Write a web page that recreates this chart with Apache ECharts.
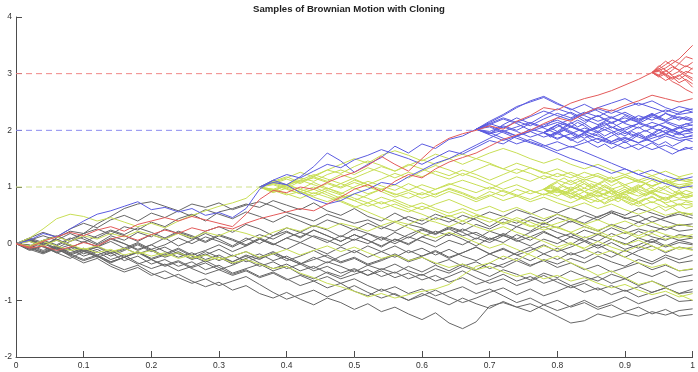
<!DOCTYPE html>
<html>
<head>
<meta charset="utf-8">
<script src="https://cdn.jsdelivr.net/npm/echarts@6/dist/echarts.min.js"></script>
<style>
  html, body { margin: 0; padding: 0; background: #fff; }
  #chart { width: 698px; height: 372px; }
</style>
</head>
<body>
<div id="chart"></div>
<script>
// all path values are in hundredths
// paths that start at t = 0, sampled every 0.02
const grayPaths = [
  [0,8,-4,10,22,18,35,48,62,70,74,66,58,70,64,72,60,68,74,66,55,48,40,52,44,36,42,30,22,34,28,18,26,14,20,8,16,4,12,22,10,18,6,-4,8,0,-8,4,-6,2,-2],
  [0,-6,6,14,4,18,26,16,30,24,38,30,44,52,40,56,62,70,64,76,68,60,72,58,50,62,48,40,54,42,34,46,38,50,42,30,44,36,48,40,52,44,36,48,56,44,50,38,46,52,45],
  [0,10,2,-8,4,12,0,14,6,20,12,26,18,8,22,30,20,34,26,14,28,20,32,24,12,26,18,6,20,10,24,16,28,20,8,22,14,30,22,36,28,40,30,22,34,26,38,30,24,34,30],
  [0,-10,-4,-16,-8,4,-6,8,0,-12,-2,10,-4,6,18,8,-4,10,0,14,22,10,24,14,4,16,6,-6,8,-2,12,4,18,8,-4,10,2,16,6,20,10,-2,12,4,18,8,22,12,6,16,12],
  [0,6,-4,-14,-6,-18,-10,-22,-12,-2,-14,-6,-18,-26,-14,-24,-32,-20,-28,-16,-26,-36,-24,-34,-22,-12,-24,-14,-4,-16,-8,-20,-10,-22,-30,-18,-28,-16,-6,-18,-8,-20,-12,-2,-14,-24,-12,-4,-16,-6,-10],
  [0,-8,2,-10,-20,-12,-24,-16,-30,-22,-36,-28,-40,-32,-46,-38,-52,-44,-36,-48,-40,-54,-62,-50,-58,-46,-56,-44,-52,-40,-50,-38,-48,-36,-46,-34,-42,-30,-40,-28,-36,-26,-34,-22,-32,-40,-28,-36,-24,-34,-30],
  [0,-12,-4,-16,-26,-14,-22,-34,-24,-14,-28,-20,-10,-22,-32,-24,-36,-26,-18,-30,-22,-34,-44,-32,-40,-50,-38,-46,-36,-48,-56,-44,-52,-40,-48,-58,-46,-54,-64,-52,-60,-48,-58,-66,-54,-62,-50,-58,-48,-60,-55],
  [0,-6,-16,-8,-20,-30,-22,-36,-46,-38,-52,-62,-54,-66,-76,-68,-82,-74,-88,-96,-86,-98,-108,-96,-104,-116,-106,-120,-112,-124,-134,-122,-140,-150,-138,-110,-104,-112,-106,-116,-128,-140,-136,-124,-130,-122,-128,-120,-126,-118,-115],
  [0,-10,-18,-8,-22,-34,-26,-40,-50,-42,-56,-48,-60,-70,-62,-74,-66,-58,-72,-86,-98,-90,-82,-94,-84,-74,-86,-96,-88,-100,-92,-82,-94,-104,-96,-86,-78,-90,-80,-92,-84,-74,-86,-78,-90,-82,-94,-86,-78,-88,-85],
  [0,4,-6,-16,-10,-22,-14,-28,-20,-34,-44,-36,-48,-40,-30,-42,-54,-46,-58,-50,-62,-74,-66,-78,-70,-84,-92,-80,-90,-100,-88,-98,-108,-96,-106,-114,-102,-112,-120,-108,-118,-110,-100,-112,-104,-94,-106,-98,-90,-102,-100],
  [0,8,0,-10,-2,-14,-6,4,-8,-18,-10,-22,-14,-26,-18,-30,-20,-32,-24,-14,-26,-36,-28,-20,-32,-24,-36,-28,-18,-30,-22,-12,-24,-16,-6,-18,-10,-20,-12,-2,-14,-6,4,-8,2,-10,-2,8,-4,6,0],
  [0,-8,-16,-6,-18,-10,-22,-32,-24,-14,-26,-18,-8,-20,-12,-2,-14,-4,8,-2,10,2,14,6,-4,8,0,12,4,16,26,18,30,22,34,26,38,30,42,34,46,38,50,42,54,46,38,48,40,32,35],
  [0,-4,6,-2,10,2,14,24,16,28,20,10,22,14,4,16,8,-2,10,0,-10,2,-8,-18,-6,-16,-4,-14,-24,-12,-22,-14,-26,-16,-6,-18,-8,-20,-30,-18,-28,-16,-26,-14,-24,-12,-22,-32,-20,-28,-20],
  [0,10,20,12,26,36,28,42,50,40,54,46,58,48,60,52,44,56,48,38,50,40,30,42,34,24,36,26,38,48,40,52,44,34,46,56,48,60,52,62,54,64,56,46,58,50,62,54,46,56,50],
  [0,-2,-12,-4,-16,-8,-20,-12,-24,-16,-28,-38,-30,-42,-34,-46,-38,-28,-40,-32,-44,-36,-48,-40,-52,-44,-56,-48,-60,-52,-64,-56,-68,-60,-72,-64,-54,-66,-58,-70,-62,-74,-66,-58,-70,-62,-74,-66,-76,-68,-65],
  [0,6,14,6,18,8,-2,10,0,-10,-2,-14,-24,-16,-28,-20,-32,-22,-34,-44,-36,-48,-40,-52,-62,-54,-46,-58,-50,-62,-54,-66,-58,-48,-60,-70,-62,-74,-66,-56,-68,-78,-70,-82,-74,-84,-76,-86,-78,-88,-80],
  [0,-6,4,-4,8,18,10,22,14,4,16,8,20,12,2,14,6,-4,8,-2,10,20,12,2,14,6,18,10,0,12,4,-6,6,-2,10,2,14,6,-4,8,0,12,4,16,8,-2,10,2,14,6,10],
  [0,8,-2,6,-4,-14,-6,-18,-10,0,-12,-24,-16,-28,-20,-10,-22,-14,-26,-18,-30,-22,-12,-24,-34,-26,-38,-30,-20,-32,-24,-36,-28,-40,-32,-44,-36,-26,-38,-30,-42,-34,-46,-38,-50,-42,-34,-46,-38,-48,-45],
  [0,-4,-14,-6,-18,-28,-20,-32,-24,-36,-28,-40,-32,-44,-54,-46,-56,-48,-60,-52,-64,-56,-66,-58,-70,-62,-74,-84,-76,-88,-80,-92,-84,-76,-88,-80,-92,-104,-96,-108,-100,-112,-104,-116,-108,-120,-112,-124,-116,-128,-125],
  [0,6,-4,8,-2,-12,-4,-16,-8,2,-10,-2,10,0,12,4,-6,6,16,8,20,12,24,14,4,16,6,-4,8,0,12,22,14,26,16,6,18,8,20,30,20,12,24,16,28,18,26,20,30,22,25]
];
const yellowPaths = [
  [0,10,26,44,52,48,40,46,38,30,36,28,40,50,58,66,72,80,100,92,104,96,108,98,88,100,110,102,94,106,96,86,98,90,80,92,84,96,88,96,90,100,92,84,94,86,96,88,80,90,84],
  [0,-6,4,-4,-12,-8,-16,-10,-20,-14,-22,-16,-26,-20,-30,-24,-34,-28,-36,-44,-40,-52,-60,-70,-76,-84,-94,-88,-96,-90,-84,-80,-72,-56,-40,-34,-22,-30,-16,-4,-12,0,-8,4,-6,-14,-4,-12,-2,-10,-6],
  [0,4,-4,6,-2,-10,-4,-14,-8,-18,-12,-22,-16,-26,-20,-28,-22,-14,-24,-18,-10,-20,-12,-4,-14,-6,-16,-26,-20,-30,-24,-34,-42,-36,-46,-40,-50,-58,-52,-62,-56,-66,-60,-70,-78,-72,-82,-90,-84,-94,-88],
  [0,-4,6,12,4,14,8,18,12,22,16,8,18,10,20,14,24,18,10,20,28,22,32,26,36,30,22,32,40,34,44,38,30,40,50,44,36,46,38,28,36,44,34,42,32,40,30,38,28,34,30]
];
const bluePaths = [
  [0,6,18,12,26,40,52,58,66,74,60,64,56,62,50,55,46,62,96,112,104,118,136,160,146,126,140,152,172,160,176,168,184,190,202,194,210,222,212,226,238,230,216,226,214,200,212,224,216,208,214]
];
const redPaths = [
  [0,-6,4,12,20,14,24,30,22,34,40,46,40,48,42,36,30,52,78,94,90,100,96,108,118,126,138,154,140,128,150,172,186,194,200,208,202,216,226,240,236,248,256,262,270,280,290,302,310,326,350],
  [0,-8,-4,-12,-6,2,-4,8,14,6,16,24,18,28,22,30,26,36,44,50,56,62,58,70,82,96,104,92,110,122,116,132,144,152,160,172,184,192,200,212,222,216,230,240,234,244,252,262,256,250,256]
];

// clones split off at the first hit of level 1, t = 0.36, every 0.02
const yellowClones = [
  [100,110,118,108,120,130,124,136,146,138,128,140,132,122,114,124,116,106,96,104,94,86,96,88,98,90,82,92,84,94,88,80,86],
  [100,94,86,92,82,74,84,76,66,74,64,56,66,58,48,56,46,38,48,40,30,38,28,20,30,22,12,20,10,18,8,14,10],
  [100,106,98,110,116,108,100,112,104,96,104,94,86,96,104,112,104,96,108,118,110,120,112,104,114,106,96,104,112,102,110,100,106],
  [100,92,104,96,88,98,90,80,72,82,74,64,72,62,54,62,52,44,34,42,32,24,30,20,10,18,8,-2,6,-4,-14,-6,-12],
  [100,108,116,126,118,130,140,150,142,156,164,156,146,158,150,140,150,142,132,142,134,124,132,122,112,120,110,118,108,116,106,112,108],
  [100,96,88,80,90,82,74,64,72,62,70,60,52,42,50,40,30,22,30,20,12,4,-6,2,-10,-20,-12,-24,-34,-42,-36,-48,-44],
  [100,112,104,116,110,122,130,122,134,126,116,126,118,128,120,130,122,112,122,132,124,114,124,116,126,118,108,118,110,102,110,104,108],
  [100,90,98,88,96,106,98,108,100,92,82,90,80,88,96,88,78,86,76,84,74,82,72,64,72,62,70,60,52,60,50,56,52],
  [100,108,100,92,100,90,80,88,80,70,78,68,60,70,78,68,58,66,56,64,54,44,52,42,34,24,32,22,14,24,16,10,16],
  [100,106,114,106,118,110,122,114,104,114,124,116,128,138,130,120,130,140,132,124,134,126,118,126,116,124,114,122,112,120,110,116,112],
  [100,94,102,92,84,94,86,76,86,96,88,80,90,82,92,84,74,84,94,86,78,88,80,72,82,74,84,76,66,74,64,70,68],
  [100,104,96,88,96,86,76,66,56,46,38,28,18,10,20,12,2,-8,0,-10,-20,-30,-22,-34,-44,-56,-48,-60,-72,-66,-78,-90,-100],
  [100,110,102,112,122,114,106,116,126,136,128,138,148,140,150,158,150,160,168,160,150,142,150,140,132,140,130,122,130,120,128,118,124],
  [100,96,104,112,104,96,106,98,88,96,86,94,104,96,106,98,90,100,92,84,94,86,96,88,78,86,76,84,74,82,72,78,74]
];
const blueClonesEarly = [
  [100,108,104,90,78,70,76,88,96,108,104,118,130,142,150,162,174,186,198,206,214,206,222,232,220,210,222,214,226,218,230,222,216],
  [100,112,122,116,128,140,134,148,156,166,158,150,140,152,164,158,170,182,176,190,202,196,210,220,230,240,248,256,244,252,240,232,238]
];

// clones split off at the first hit of level 2, t = 0.68, every 0.02
const blueClones = [
  [202,214,226,240,252,260,248,236,246,234,222,232,220,228,216,224,218],
  [202,194,206,198,188,196,186,194,204,196,206,198,188,180,190,182,186],
  [202,212,204,216,208,220,230,222,232,224,236,228,218,226,236,228,232],
  [202,196,186,176,184,174,164,172,162,152,142,132,122,114,106,98,102],
  [202,210,220,212,200,210,218,208,198,206,196,204,212,204,196,206,200],
  [202,192,182,190,180,172,180,170,178,186,178,168,176,166,174,164,170],
  [202,216,228,242,250,258,246,238,226,216,224,212,204,214,206,196,204],
  [202,198,208,200,212,204,194,186,194,184,176,186,178,190,200,192,196],
  [202,206,196,186,178,170,160,150,142,134,124,132,122,130,120,112,118],
  [202,212,222,214,224,234,226,218,228,238,230,240,248,240,232,242,236],
  [202,194,200,190,198,206,214,206,196,204,214,222,214,206,214,204,210],
  [202,208,198,190,198,188,196,206,198,190,180,188,178,186,194,186,190]
];

// dense late clones from t = 0.78, every 0.01
const yellowDense = [
  [96,104,98,106,112,104,110,102,96,104,98,90,96,88,94,86,92,100,94,88,94,86,90],
  [96,90,84,90,82,88,80,86,78,72,80,74,82,76,70,78,84,76,82,74,68,74,70],
  [96,102,108,100,94,100,92,98,104,110,102,108,100,94,100,106,98,92,98,104,96,102,98],
  [96,88,94,86,80,86,92,84,90,96,88,82,88,80,74,80,72,78,70,64,70,62,66],
  [96,100,94,88,94,100,106,98,92,86,92,84,90,96,102,94,100,106,112,104,98,104,100],
  [96,92,98,90,84,78,84,90,82,88,94,86,80,74,80,86,92,84,78,84,90,82,86],
  [96,104,110,116,108,114,106,100,106,112,118,110,104,98,104,96,90,96,102,94,88,94,90],
  [96,90,96,102,96,88,82,88,94,100,94,86,92,98,90,84,90,82,76,82,88,80,84],
  [96,98,92,86,92,84,78,72,78,70,76,82,74,68,74,66,60,66,58,64,56,50,54],
  [96,102,96,90,96,104,98,106,100,94,88,94,100,92,98,106,112,106,114,108,116,110,112]
];
const blueDense = [
  [196,204,198,206,214,206,212,204,198,206,200,192,198,190,196,188,194,202,196,190,196,188,192],
  [196,190,184,190,182,188,196,188,194,186,180,186,178,184,192,186,180,174,180,172,178,184,180],
  [196,202,210,204,212,218,212,220,226,218,212,218,226,220,214,222,228,222,230,224,218,224,220],
  [196,188,194,200,194,186,192,184,178,184,190,196,190,198,192,186,192,200,206,200,194,200,196],
  [196,204,210,202,196,190,196,202,208,214,206,200,194,200,206,198,204,210,204,198,204,212,208],
  [196,192,198,190,184,178,184,176,170,176,168,174,180,172,166,172,178,170,164,158,164,170,166],
  [196,200,206,212,206,214,208,200,206,212,204,210,216,222,216,224,230,224,218,224,230,236,232],
  [196,190,196,204,198,192,186,192,198,190,196,188,182,188,194,200,194,188,194,200,206,198,202]
];

// clones split off at the first hit of level 3, t = 0.94, every 0.01
const redClones = [
  [302,310,298,306,318,312,320],
  [302,296,288,294,284,290,282],
  [302,312,322,314,306,314,308],
  [302,298,306,296,290,298,292],
  [302,308,316,324,318,330,326],
  [302,294,300,292,298,288,276],
  [302,306,298,290,296,304,300],
  [302,314,306,298,304,296,288],
  [302,296,304,312,306,300,310],
  [302,304,296,286,280,272,266]
];

// levels and the time each one was first reached
const levelValues = [1, 2, 3];
const levelFirstHit = [0.36, 0.674, 0.938];

const GRAY = '#666666', YELLOW = '#c8de55', BLUE = '#5b5be0', RED = '#e35a5a';
const dashColors = ['#cfe08a', '#8c8cf0', '#f08585'];

function pathSeries(paths, t0, dt, color) {
  return paths.map(function (ys) {
    return {
      type: 'line',
      symbol: 'none',
      silent: true,
      animation: false,
      lineStyle: { color: color, width: 1 },
      data: ys.map(function (v, i) { return [+(t0 + i * dt).toFixed(4), v / 100]; })
    };
  });
}

var series = levelValues.map(function (lv, i) {
  return {
    type: 'line',
    symbol: 'none',
    silent: true,
    animation: false,
    lineStyle: { color: dashColors[i], width: 1, type: [6, 4] },
    data: [[0, lv], [levelFirstHit[i], lv]]
  };
});
series = series
  .concat(pathSeries(grayPaths, 0, 0.02, GRAY))
  .concat(pathSeries(yellowPaths, 0, 0.02, YELLOW))
  .concat(pathSeries(yellowClones, 0.36, 0.02, YELLOW))
  .concat(pathSeries(yellowDense, 0.78, 0.01, YELLOW))
  .concat(pathSeries(bluePaths, 0, 0.02, BLUE))
  .concat(pathSeries(blueClonesEarly, 0.36, 0.02, BLUE))
  .concat(pathSeries(blueClones, 0.68, 0.02, BLUE))
  .concat(pathSeries(blueDense, 0.78, 0.01, BLUE))
  .concat(pathSeries(redPaths, 0, 0.02, RED))
  .concat(pathSeries(redClones, 0.94, 0.01, RED));

var chart = echarts.init(document.getElementById('chart'), null, { renderer: 'canvas' });

var axisCommon = {
  axisLine: { show: true, onZero: false, lineStyle: { color: '#4d4d4d', width: 1 } },
  axisTick: { show: true, inside: true, length: 6, lineStyle: { color: '#4d4d4d' } },
  axisLabel: { color: '#333', fontSize: 8.5, margin: 4, fontFamily: 'Liberation Sans' },
  splitLine: { show: false }
};

var option = {
  animation: false,
  title: {
    text: 'Samples of Brownian Motion with Cloning',
    left: 'center',
    top: 0,
    padding: [4, 0, 0, 12],
    textStyle: { fontSize: 9.6, fontWeight: 'bold', color: '#222', fontFamily: 'Liberation Sans' }
  },
  grid: { left: 16, right: 4, top: 17, bottom: 15 },
  xAxis: Object.assign({ type: 'value', min: 0, max: 1, interval: 0.1 }, axisCommon),
  yAxis: Object.assign({ type: 'value', min: -2, max: 4, interval: 1 }, axisCommon),
  series: series
};

chart.setOption(option);
</script>
</body>
</html>
